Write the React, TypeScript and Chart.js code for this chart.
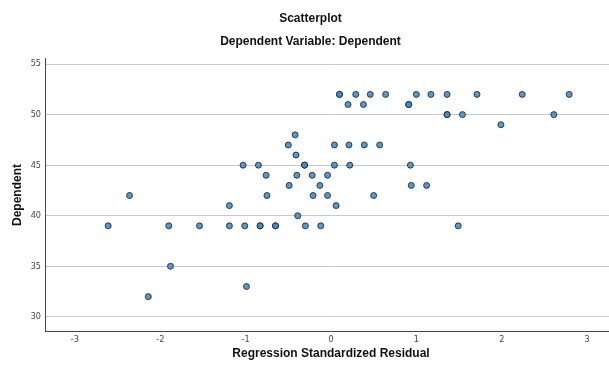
import React, { useEffect, useRef } from "react";
import { Chart, registerables } from "chart.js";

Chart.register(...registerables);

const chartTitle = "Scatterplot";
const chartSubtitle = "Dependent Variable: Dependent";
const xAxisTitle = "Regression Standardized Residual";
const yAxisTitle = "Dependent";

const xTicks = [-3, -2, -1, 0, 1, 2, 3];
const yTicks = [30, 35, 40, 45, 50, 55];

const residuals = [
  0.1, 0.1, 0.29, 0.46, 0.64, 1.0, 1.17, 1.36, 1.71, 2.24, 2.79,
  0.2, 0.38, 0.91, 0.91,
  1.36, 1.36, 1.54, 2.61,
  1.99,
  -0.42,
  -0.5, 0.04, 0.21, 0.39, 0.57,
  -0.41,
  -1.03, -0.85, -0.31, -0.31, 0.04, 0.22, 0.93,
  -0.76, -0.4, -0.22, -0.04,
  -0.49, -0.13, 0.94, 1.12,
  -2.36, -0.75, -0.21, -0.04, 0.5,
  -1.19, 0.06,
  -0.39,
  -2.61, -1.9, -1.54, -1.19, -1.01, -0.83, -0.83, -0.65, -0.65, -0.3, -0.12, 1.49,
  -1.88,
  -0.99,
  -2.14,
];

const dependent = [
  52, 52, 52, 52, 52, 52, 52, 52, 52, 52, 52,
  51, 51, 51, 51,
  50, 50, 50, 50,
  49,
  48,
  47, 47, 47, 47, 47,
  46,
  45, 45, 45, 45, 45, 45, 45,
  44, 44, 44, 44,
  43, 43, 43, 43,
  42, 42, 42, 42, 42,
  41, 41,
  40,
  39, 39, 39, 39, 39, 39, 39, 39, 39, 39, 39, 39,
  35,
  33,
  32,
];

const sansFont = "'Liberation Sans', Arial, sans-serif";
const narrowFont = "'Liberation Sans Narrow', 'DejaVu Sans Condensed', 'Liberation Sans', sans-serif";

export default function App() {
  const ref = useRef<HTMLCanvasElement>(null);

  useEffect(() => {
    const canvas = ref.current;
    if (!canvas) return;
    const points = residuals.map((x, i) => ({ x, y: dependent[i] }));
    const chart = new Chart(canvas, {
      type: "scatter",
      data: {
        datasets: [
          {
            data: points,
            backgroundColor: "rgba(74,140,192,0.9)",
            borderColor: "rgba(22,38,58,0.85)",
            borderWidth: 1,
            pointRadius: 3,
            pointHoverRadius: 3,
          },
        ],
      },
      options: {
        animation: false,
        responsive: false,
        devicePixelRatio: 1,
        layout: { padding: 0 },
        plugins: {
          legend: { display: false },
          tooltip: { enabled: false },
          title: {
            display: true,
            text: chartTitle,
            color: "#111",
            font: { family: sansFont, size: 12, weight: "bold" },
            padding: { top: 11, bottom: 0 },
          },
          subtitle: {
            display: true,
            text: chartSubtitle,
            color: "#111",
            font: { family: sansFont, size: 12, weight: "bold" },
            padding: { top: 9, bottom: 10.2 },
          },
        },
        scales: {
          x: {
            type: "linear",
            min: -3.35,
            max: 3.35,
            afterBuildTicks: (axis: any) => {
              axis.ticks = xTicks.map((v) => ({ value: v }));
            },
            afterFit: (axis: any) => {
              axis.height = 38;
            },
            grid: { display: false, drawTicks: false },
            border: { display: true, color: "#444", width: 1 },
            ticks: {
              font: { family: narrowFont, size: 9 },
              color: "#444",
              padding: 3,
              maxRotation: 0,
              autoSkip: false,
            },
            title: {
              display: true,
              text: xAxisTitle,
              color: "#111",
              font: { family: sansFont, size: 12, weight: "bold" },
              padding: { top: 0, bottom: 8.5 },
            },
          },
          y: {
            type: "linear",
            min: 28.6,
            max: 55.5,
            afterBuildTicks: (axis: any) => {
              axis.ticks = yTicks.map((v) => ({ value: v }));
            },
            afterFit: (axis: any) => {
              axis.width = 45;
            },
            grid: { color: "#c8c8c8", lineWidth: 1, drawTicks: false },
            border: { display: true, color: "#444", width: 1 },
            ticks: {
              font: { family: narrowFont, size: 9 },
              color: "#444",
              padding: 4,
            },
            title: {
              display: true,
              text: yAxisTitle,
              color: "#111",
              font: { family: sansFont, size: 12, weight: "bold" },
              padding: { top: 10.8, bottom: 0 },
            },
          },
        },
      },
    } as any);
    return () => chart.destroy();
  }, []);

  return (
    <div
      style={{
        position: "fixed",
        left: 0,
        top: 0,
        width: 609,
        height: 369,
        overflow: "hidden",
        background: "#fff",
      }}
    >
      <canvas ref={ref} width={621} height={369} style={{ display: "block" }} />
    </div>
  );
}
